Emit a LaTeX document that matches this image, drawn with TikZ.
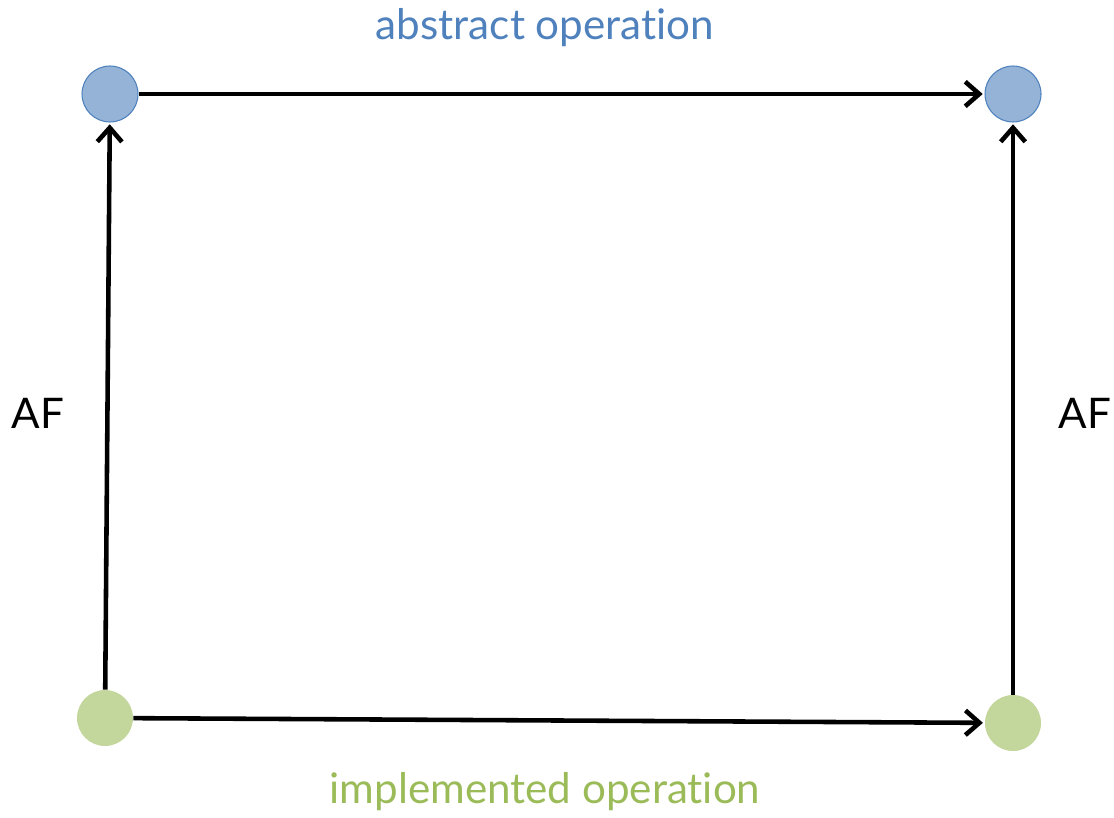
\documentclass[tikz,border=0pt]{standalone}
\usepackage{fontspec}
\setmainfont{Lato}[Ligatures=NoCommon]
\usetikzlibrary{arrows.meta,positioning}
\definecolor{absblue}{HTML}{4F81BD}
\definecolor{absfill}{HTML}{95B3D7}
\definecolor{impgreen}{HTML}{9BBB59}
\definecolor{impfill}{HTML}{C3D69B}
\tikzset{
    >={Straight Barb[length=8pt,width=14pt]},
    absstate/.style={
        circle,
        fill=absfill,
        draw=absblue, semithick,
        minimum size=1.12cm,
        inner sep=0pt
    },
    impstate/.style={
        circle,
        fill=impfill,
        minimum size=1.12cm,
        inner sep=0pt
    },
    op/.style={draw, line width=2.6pt, ->, shorten >=1pt},
    lbl/.style={font={\fontsize{24pt}{28}\selectfont}},
}
\begin{document}
\begin{tikzpicture}[x=0.02cm, y=-0.02cm]
\useasboundingbox (0,0) rectangle (1114,817);

\node [absstate] (abs-1) at (110,94) {};
\node [absstate] (abs-2) at (1013,94) {};
\node [impstate] (imp-1) at (105,718) {};
\node [impstate] (imp-2) at (1013,723) {};

\draw [op] (abs-1) -- (abs-2);
\draw [op] (imp-1) -- (imp-2);
\foreach \i in {1,2}
  \draw [op] (imp-\i) -- (abs-\i);

\node [lbl, text=absblue] (abs-name) at (545,28) {abstract operation};
\node [lbl, text=impgreen] (imp-name) at (545,792) {implemented operation};
\node [lbl] (af-1) at (38,413) {AF};
\node [lbl] (af-2) at (1085,413) {AF};

\end{tikzpicture}
\end{document}
